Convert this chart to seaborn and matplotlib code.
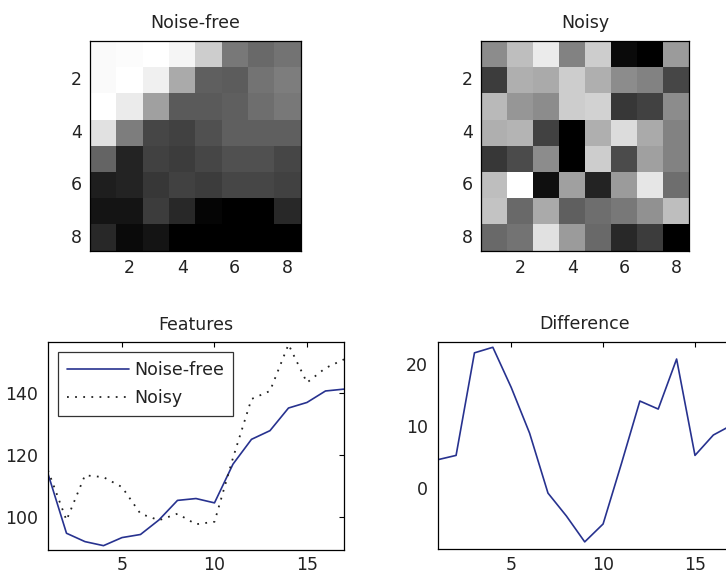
import numpy as np
import pandas as pd
import matplotlib
matplotlib.use("Agg")
import matplotlib.pyplot as plt
import seaborn as sns

# ---- data ----
noise_free_img = [
    [250, 252, 255, 245, 205, 120, 105, 115],
    [250, 255, 240, 170, 95, 92, 115, 125],
    [255, 235, 160, 90, 90, 95, 110, 120],
    [225, 125, 70, 65, 80, 95, 95, 95],
    [100, 35, 65, 60, 70, 80, 80, 70],
    [30, 35, 55, 65, 60, 70, 70, 65],
    [20, 20, 60, 40, 5, 0, 0, 40],
    [40, 10, 20, 0, 0, 0, 0, 0],
]
noisy_img = [
    [140, 190, 235, 130, 205, 10, 0, 155],
    [60, 175, 170, 205, 175, 140, 130, 70],
    [185, 150, 140, 205, 210, 55, 65, 140],
    [175, 180, 65, 0, 175, 220, 170, 130],
    [55, 75, 140, 0, 205, 75, 160, 130],
    [190, 255, 15, 160, 35, 155, 230, 110],
    [195, 105, 170, 95, 110, 120, 145, 190],
    [105, 115, 225, 155, 105, 40, 60, 0],
]
img_ticks = [2, 4, 6, 8]

feature_idx = list(range(1, 18))
noise_free_feat = [113.9, 94.7, 92.0, 90.7, 93.3, 94.3, 99.0, 105.3, 105.9,
                   104.5, 117.0, 125.0, 127.8, 135.1, 136.9, 140.6, 141.2]
noisy_feat = [115.0, 98.9, 113.4, 112.8, 109.6, 101.0, 98.9, 101.0, 97.6,
              98.4, 119.0, 138.0, 140.6, 155.6, 143.3, 148.0, 150.8]
difference = [4.5, 5.2, 21.8, 22.7, 16.2, 8.8, -0.9, -4.6, -8.8, -5.9,
              3.9, 14.0, 12.7, 20.8, 5.2, 8.5, 10.1]

feat_xticks = [5, 10, 15]
feat_yticks = [100, 120, 140]
diff_yticks = [0, 10, 20]

# ---- style ----
sns.set_style("white")
plt.rcParams["font.family"] = ["DejaVu Sans"]
plt.rcParams["font.size"] = 12.5

line_blue = "#27328f"
text_col = "#222222"

fig = plt.figure(figsize=(7.26, 5.75), dpi=100)


def style_axes(ax, xpad, ypad):
    for s in ax.spines.values():
        s.set_visible(True)
        s.set_color("black")
        s.set_linewidth(0.9)
    ax.tick_params(direction="in", length=3.5, width=0.8, top=True, right=True,
                   labeltop=False, labelright=False, colors="black",
                   labelsize=12.5, labelcolor=text_col)
    ax.tick_params(axis="x", pad=xpad)
    ax.tick_params(axis="y", pad=ypad)


def draw_image(pos, data, title):
    ax = fig.add_axes(pos)
    sns.heatmap(np.array(data) / 255.0, cmap="gray", vmin=0, vmax=1,
                cbar=False, ax=ax)
    ax.set_xticks([t - 0.5 for t in img_ticks])
    ax.set_xticklabels([str(t) for t in img_ticks], rotation=0)
    ax.set_yticks([t - 0.5 for t in img_ticks])
    ax.set_yticklabels([str(t) for t in img_ticks], rotation=0)
    style_axes(ax, 6, 6)
    ax.set_title(title, fontsize=12.5, pad=9, color=text_col)
    return ax


draw_image([0.124, 0.564, 0.290, 0.365], noise_free_img, "Noise-free")
draw_image([0.6625, 0.564, 0.287, 0.365], noisy_img, "Noisy")

# ---- Features ----
df = pd.DataFrame({"idx": feature_idx, "free": noise_free_feat,
                   "noisy": noisy_feat, "diff": difference})

ax3 = fig.add_axes([0.0661, 0.0435, 0.4077, 0.3617])
sns.lineplot(data=df, x="idx", y="free", ax=ax3, color=line_blue,
             linewidth=1.2, label="Noise-free")
sns.lineplot(data=df, x="idx", y="noisy", ax=ax3, color=text_col,
             linewidth=1.3, linestyle=(0, (1, 3.5)), label="Noisy")
ax3.set_xlim(1, 17)
ax3.set_ylim(89.3, 156.4)
ax3.set_xticks(feat_xticks)
ax3.set_yticks(feat_yticks)
ax3.set_xlabel("")
ax3.set_ylabel("")
style_axes(ax3, 4.5, 7)
ax3.set_title("Features", fontsize=12.5, pad=9, color=text_col)
leg = ax3.legend(loc="upper left", bbox_to_anchor=(0.034, 0.952),
                 borderaxespad=0, frameon=True, fancybox=False,
                 handlelength=3.6, handletextpad=0.3, labelspacing=0.6,
                 borderpad=0.5, fontsize=12.5)
leg.get_frame().set_edgecolor("black")
leg.get_frame().set_linewidth(0.9)
for t in leg.get_texts():
    t.set_color(text_col)

# ---- Difference ----
ax4 = fig.add_axes([0.6029, 0.0447, 0.405, 0.361])
sns.lineplot(data=df, x="idx", y="diff", ax=ax4, color=line_blue,
             linewidth=1.2)
ax4.set_xlim(1, 17)
ax4.set_ylim(-10, 23.6)
ax4.set_xticks(feat_xticks)
ax4.set_yticks(diff_yticks)
ax4.set_xlabel("")
ax4.set_ylabel("")
style_axes(ax4, 4.5, 7)
ax4.set_title("Difference", fontsize=12.5, pad=9, color=text_col)

fig.savefig("out.png", dpi=100)
